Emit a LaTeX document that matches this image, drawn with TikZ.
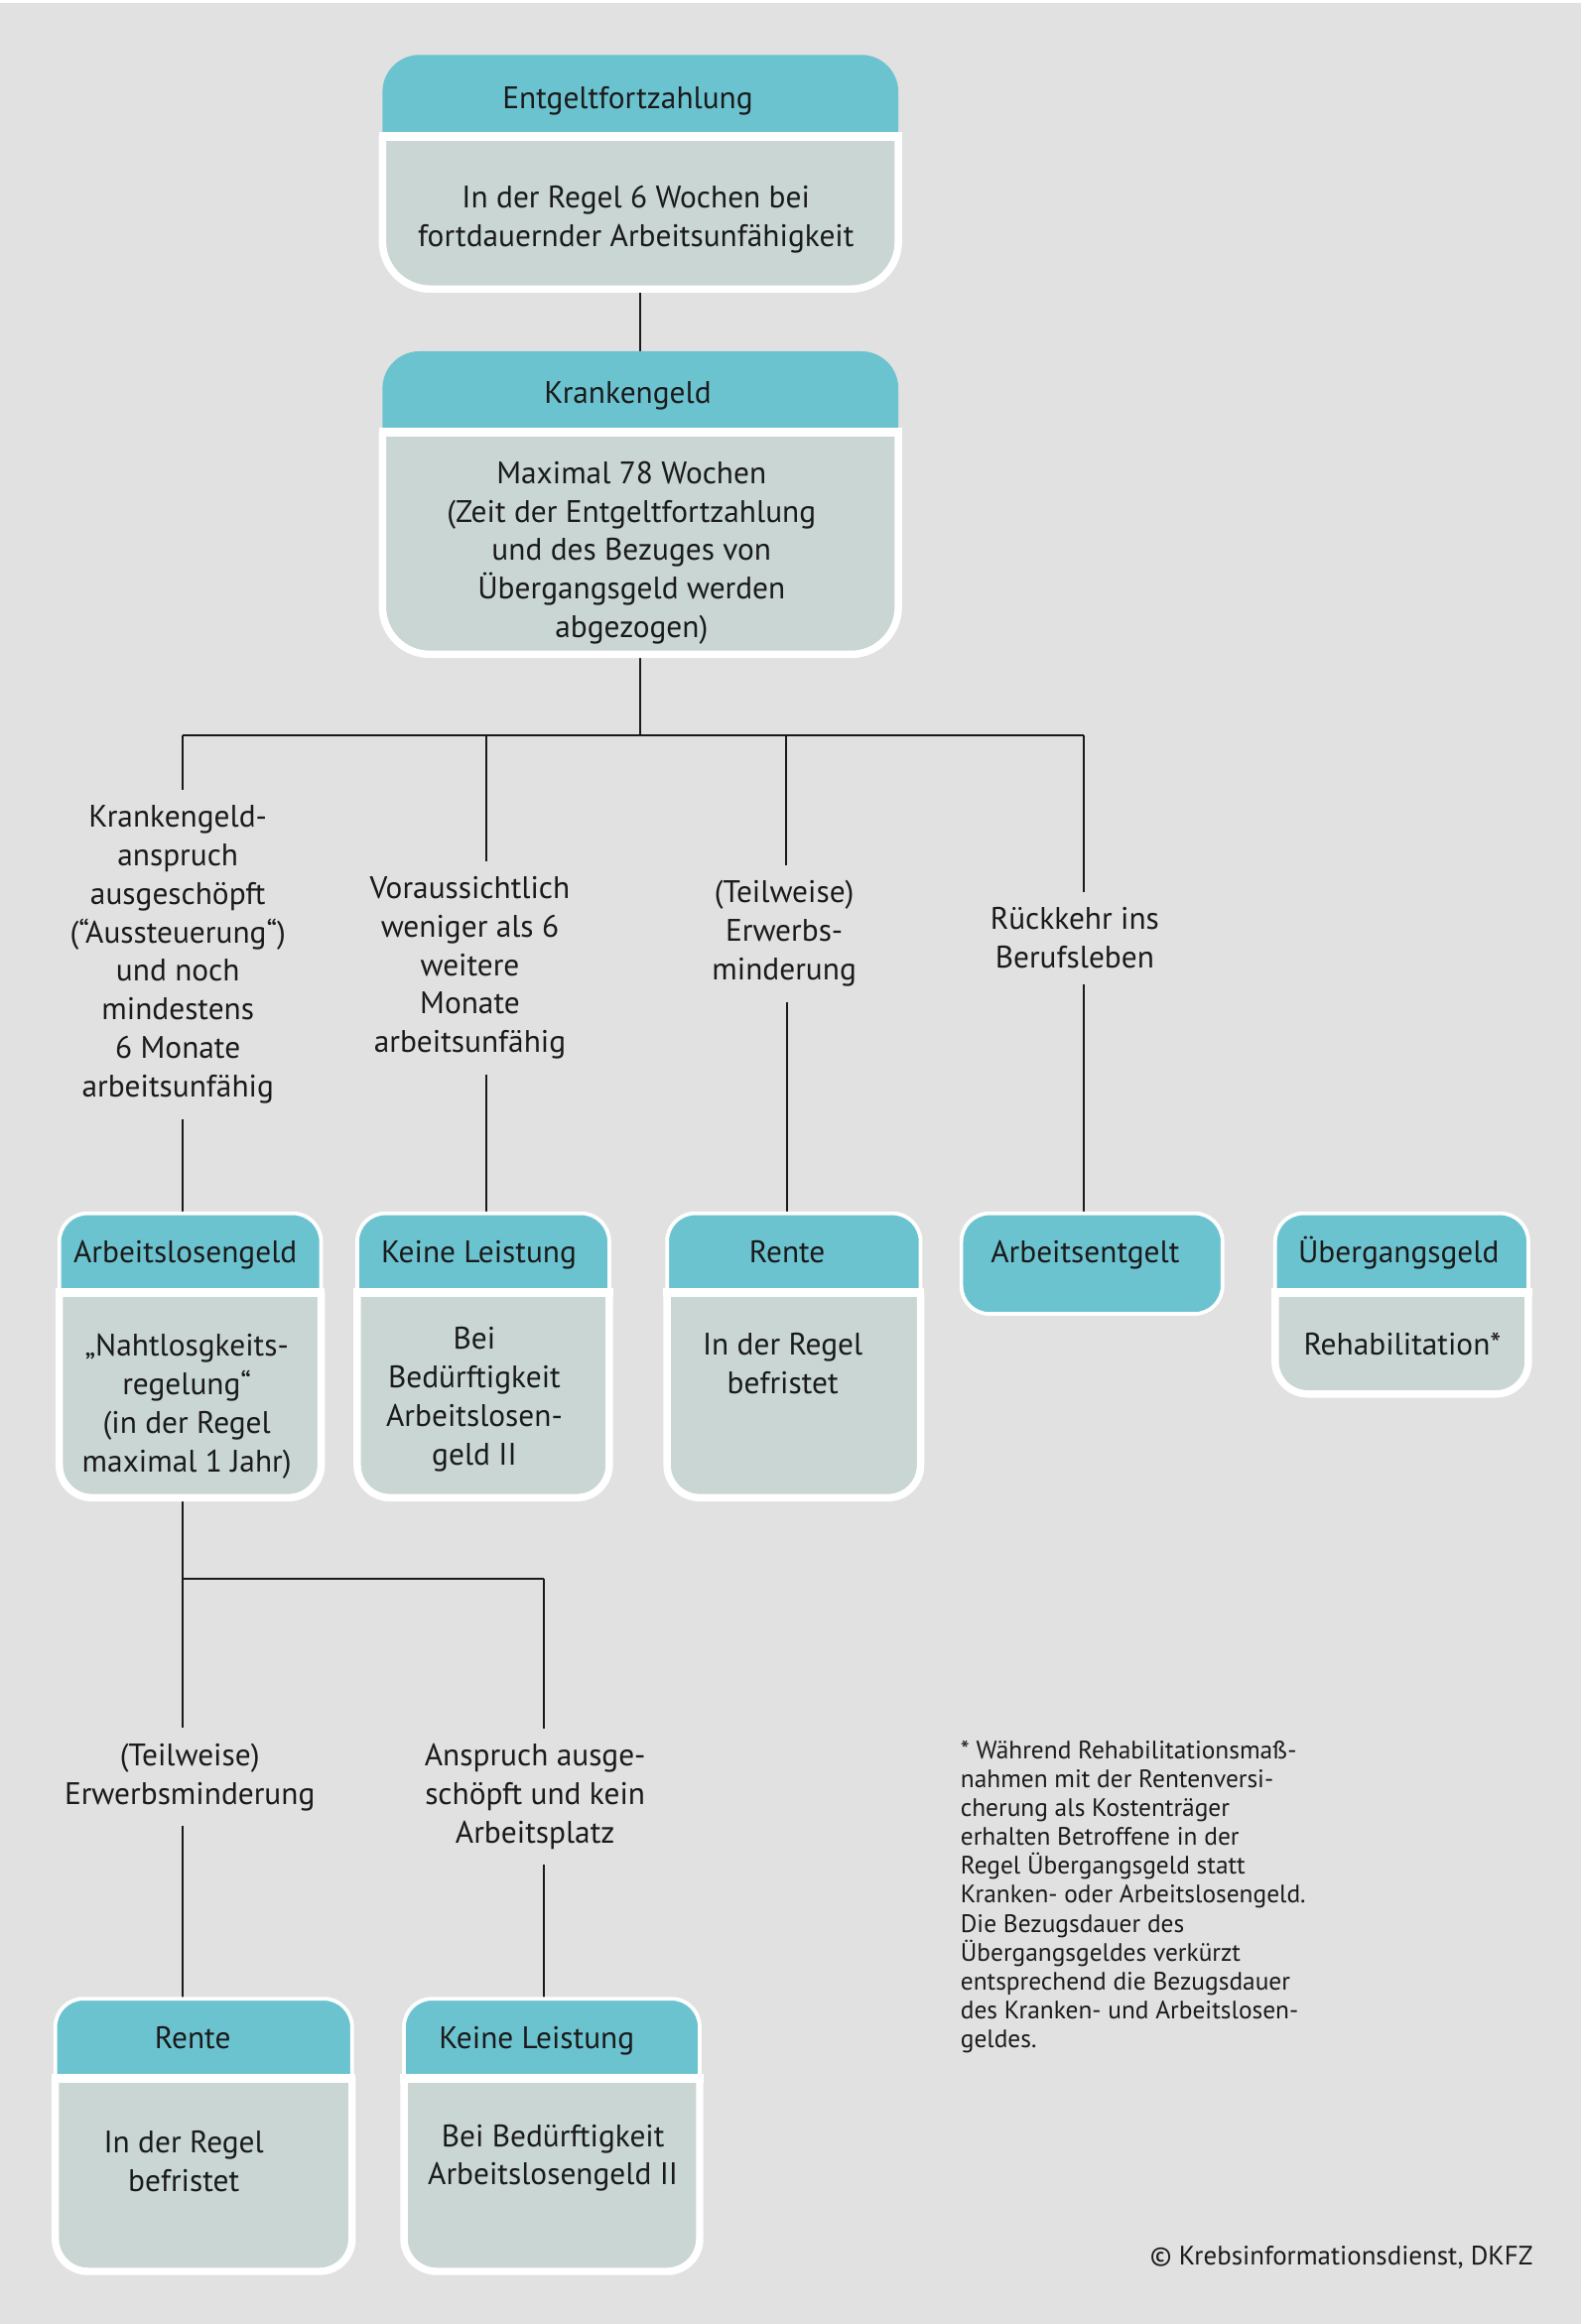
\documentclass[tikz,border=0pt]{standalone}
\usepackage{fontspec}
\setmainfont{PT Sans}
\usetikzlibrary{backgrounds}

\definecolor{kbteal}{HTML}{6CC3D0}
\definecolor{kbbody}{HTML}{C9D6D4}
\definecolor{kbbg}{HTML}{E1E1E1}
\definecolor{kbtext}{HTML}{1A1A1A}

\tikzset{
  headpart/.style={fill=kbteal, draw=white, line width=1.25pt, rounded corners=9.5pt},
  bodypart/.style={fill=kbbody, draw=white, line width=2.5pt, rounded corners=11pt},
  band/.style={draw=white, line width=3pt, shorten <=-1.25pt, shorten >=-1.25pt},
  headtxt/.style={font=\fontsize{10.5}{13}\selectfont, text=kbtext, text height=1.5ex, text depth=.25ex, inner sep=0pt},
  note/.style={text=kbtext, inner sep=0pt},
  txt/.style={font=\fontsize{10.5}{13}\selectfont, text=kbtext, align=center, inner sep=0pt, yshift=-1pt},
  lab/.style={txt, inner sep=5pt},
  conn/.style={draw=kbtext, line width=0.6pt}
}

% box with header and body: left, right, top, header bottom, bottom
\newcommand{\infobox}[5]{%
  \filldraw[headpart] (#1,#4) -- (#1,#3) -- (#2,#3) -- (#2,#4);
  \filldraw[bodypart] (#1,#4) -- (#1,#5) -- (#2,#5) -- (#2,#4);
  \draw[band] (#1,#4) -- (#2,#4);
}

\begin{document}
\begin{tikzpicture}[x=0.5pt, y=-0.5pt]
  \useasboundingbox (0,0) rectangle (1068.6,1568);

  % top boxes
  \begin{scope}[headpart/.append style={draw=none, rounded corners=12.5pt},
                bodypart/.append style={rounded corners=16pt}]
    \infobox{258}{606}{37}{92}{195}
    \infobox{258}{606}{237}{291.5}{441.5}
  \end{scope}
  \node[headtxt] (ef) at (423.5,67) {Entgeltfortzahlung};
  \node[txt] (ef-t) at (429,146) {In der Regel 6 Wochen bei\\fortdauernder Arbeitsunfähigkeit};
  \node[headtxt] (kg) at (423.5,266) {Krankengeld};
  \node[txt] (kg-t) at (426,371) {Maximal 78 Wochen\\(Zeit der Entgeltfortzahlung\\und des Bezuges von\\Übergangsgeld werden\\abgezogen)};

  % branches
  \node[lab] (aus) at (120,642) {Krankengeld-\\anspruch\\ausgeschöpft\\(“Aussteuerung“)\\und noch\\mindestens\\6 Monate\\arbeitsunfähig};
  \node[lab] (vor) at (317,651) {Voraussichtlich\\weniger als 6\\weitere\\Monate\\arbeitsunfähig};
  \node[lab] (erw) at (529,628) {(Teilweise)\\Erwerbs-\\minderung};
  \node[lab] (rue) at (725,631) {Rückkehr ins\\Berufsleben};

  % second row
  \infobox{40}{216.6}{818.6}{872}{1010.5}
  \infobox{241}{411}{818.6}{872}{1010.5}
  \infobox{450}{621}{818.6}{872}{1010.5}
  \filldraw[headpart] (648.5,818.6) rectangle (824.7,886.5);
  \infobox{860.2}{1031}{818.6}{872}{940.5}
  \node[headtxt] (alg) at (125,846) {Arbeitslosengeld};
  \node[txt] (alg-t) at (126,947) {„Nahtlosgkeits-\\regelung“\\(in der Regel\\maximal 1 Jahr)};
  \node[headtxt] (kl1) at (323,846) {Keine Leistung};
  \node[txt] (kl1-t) at (320,942) {Bei\\Bedürftigkeit\\Arbeitslosen-\\geld II};
  \node[headtxt] (r1) at (531,846) {Rente};
  \node[txt] (r1-t) at (528,918) {In der Regel\\befristet};
  \node[headtxt] (ae) at (732,846) {Arbeitsentgelt};
  \node[headtxt] (ug) at (943.5,846) {Übergangsgeld};
  \node[txt] (ug-t) at (946,905) {Rehabilitation*};

  % below Arbeitslosengeld
  \node[lab] (erw2) at (128,1197) {(Teilweise)\\Erwerbsminderung};
  \node[lab] (ans) at (361,1210) {Anspruch ausge-\\schöpft und kein\\Arbeitsplatz};

  \infobox{37.3}{237.5}{1348.5}{1402}{1532.5}
  \infobox{272.5}{472}{1348.5}{1402}{1532.5}
  \node[headtxt] (r2) at (130,1376) {Rente};
  \node[txt] (r2-t) at (124,1456) {In der Regel\\befristet};
  \node[headtxt] (kl2) at (362,1376) {Keine Leistung};
  \node[txt] (kl2-t) at (373,1454) {Bei Bedürftigkeit\\Arbeitslosengeld II};

  \node[note, align=left, anchor=north west, font=\fontsize{8.5}{9.75}\selectfont] (fn) at (647.6,1174)
    {* Während Rehabilitationsmaß-\\nahmen mit der Rentenversi-\\cherung als Kostenträger\\erhalten Betroffene in der\\Regel Übergangsgeld statt\\Kranken- oder Arbeitslosengeld.\\Die Bezugsdauer des\\Übergangsgeldes verkürzt\\entsprechend die Bezugsdauer\\des Kranken- und Arbeitslosen-\\geldes.};
  \node[note, anchor=base east, font=\fontsize{9}{11}\selectfont] (copy) at (1034.4,1528) {© Krebsinformationsdienst, DKFZ};

  \begin{scope}[on background layer]
    \fill[white] (0,0) rectangle (1068.6,1568);
    \fill[kbbg] (0,2) rectangle (1066.6,1568);

    \coordinate (bus) at (432,496);
    \coordinate (d1) at (123,496);
    \coordinate (d2) at (328,496);
    \coordinate (d3) at (530,496);
    \coordinate (d4) at (731,496);
    \coordinate (b2) at (123,1065);
    \coordinate (b2r) at (367,1065);

    \draw[conn] (ef -| bus) -- (kg -| bus);
    \draw[conn] (kg -| bus) -- (bus);
    \draw[conn] (d1) -- (d4);
    \draw[conn] (d1) -- (d1 |- aus.north);
    \draw[conn] (aus.south -| d1) -- (alg -| d1);
    \draw[conn] (d2) -- (d2 |- vor.north);
    \draw[conn] (vor.south -| d2) -- (kl1 -| d2);
    \draw[conn] (d3) -- (d3 |- erw.north);
    \draw[conn] (erw.south -| r1) -- (r1);
    \draw[conn] (d4) -- (d4 |- rue.north);
    \draw[conn] (rue.south -| d4) -- (ae -| d4);

    \draw[conn] (alg -| b2) -- (b2);
    \draw[conn] (b2) -- (b2r);
    \draw[conn] (b2) -- (b2 |- erw2.north);
    \draw[conn] (erw2.south -| b2) -- (r2 -| b2);
    \draw[conn] (b2r) -- (b2r |- ans.north);
    \draw[conn] (ans.south -| b2r) -- (kl2 -| b2r);
  \end{scope}
\end{tikzpicture}
\end{document}
